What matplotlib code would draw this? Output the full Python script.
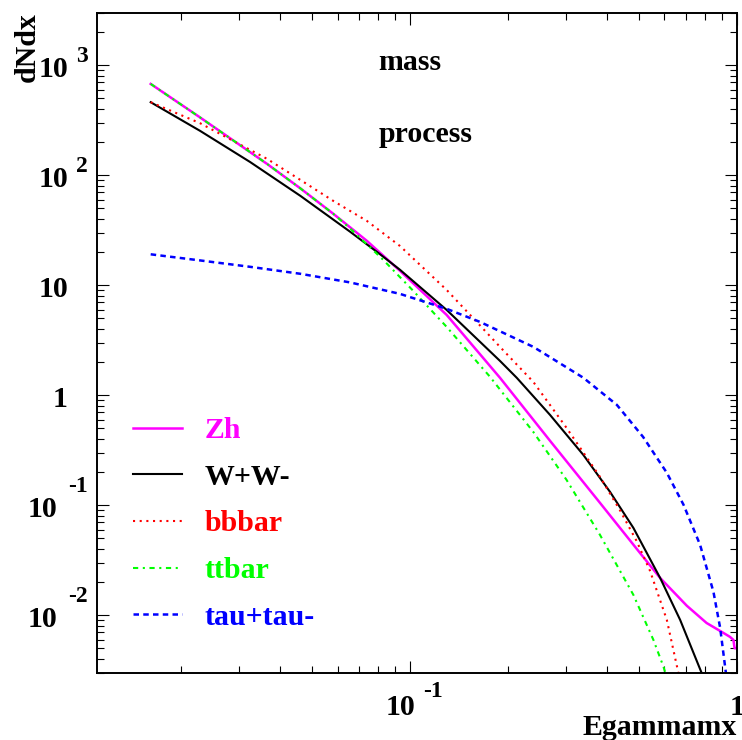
import matplotlib.pyplot as plt
from matplotlib.ticker import LogLocator, NullFormatter

plt.rcParams["font.family"] = ["Liberation Serif", "DejaVu Serif"]
plt.rcParams["font.weight"] = "bold"

# photon spectra dN/dx vs x = E_gamma / m_x
zh_x = [0.0161, 0.0228, 0.0288, 0.0365, 0.0462, 0.0583, 0.0738, 0.0932, 0.1294, 0.1884,
        0.268, 0.381, 0.505, 0.582, 0.702, 0.807, 0.898, 0.952, 0.975, 0.983, 1.0]
zh_y = [676, 335, 207, 127, 75.9, 44.5, 25.3, 13.5, 5.37, 1.44,
        0.385, 0.105, 0.0368, 0.0218, 0.0122, 0.0085, 0.00705, 0.00635, 0.00596, 0.00501, 0.00501]

ww_x = [0.0161, 0.0228, 0.0324, 0.0462, 0.0656, 0.081, 0.0932, 0.1294, 0.1884, 0.212,
        0.268, 0.339, 0.409, 0.482, 0.582, 0.670, 0.780, 0.804]
ww_y = [461, 253, 132, 64.9, 30.6, 19.1, 13.8, 5.96, 2.05, 1.44,
        0.662, 0.286, 0.132, 0.0622, 0.0218, 0.00906, 0.00297, 0.0021]

bb_x = [0.0161, 0.0228, 0.0288, 0.0365, 0.0462, 0.0583, 0.0738, 0.0932, 0.1294, 0.1636,
        0.1884, 0.2383, 0.301, 0.381, 0.438, 0.493, 0.542, 0.610, 0.662, 0.684]
bb_y = [461, 297, 205, 141, 90.6, 58.3, 38.4, 22.7, 9.06, 4.31,
        2.75, 1.32, 0.505, 0.181, 0.0906, 0.0473, 0.0253, 0.00906, 0.00297, 0.0021]

tt_x = [0.0161, 0.0228, 0.0288, 0.0365, 0.0462, 0.0583, 0.0656, 0.0828, 0.1023, 0.1294,
        0.1756, 0.2383, 0.301, 0.381, 0.482, 0.555, 0.596, 0.615]
tt_y = [676, 335, 207, 127, 75.9, 44.5, 32.8, 17.0, 8.88, 4.18,
        1.47, 0.463, 0.170, 0.0537, 0.0153, 0.00596, 0.00339, 0.00247]

tau_x = [0.0161, 0.0228, 0.0324, 0.0462, 0.0656, 0.0932, 0.1294, 0.1636, 0.2383, 0.339,
         0.429, 0.516, 0.610, 0.686, 0.771, 0.847, 0.888, 0.918, 0.939]
tau_y = [19.1, 16.8, 14.7, 12.7, 10.6, 8.34, 6.1, 4.64, 2.75, 1.44,
         0.817, 0.418, 0.197, 0.101, 0.0436, 0.0163, 0.00767, 0.00353, 0.0021]

series = [
    ("Zh", zh_x, zh_y, "#ff00ff", "-", 1.8),
    ("W+W-", ww_x, ww_y, "black", "-", 1.5),
    ("bbbar", bb_x, bb_y, "#ff0000", (0, (1, 2.2)), 1.5),
    ("ttbar", tt_x, tt_y, "#00ff00", (0, (2.5, 2.2, 1, 2.2)), 1.5),
    ("tau+tau-", tau_x, tau_y, "#0000ff", (0, (2.2, 1.7)), 1.8),
]

# log tick labels drawn ROOT style: "10" plus a raised exponent
ytick_vals = [1e-2, 1e-1, 1, 10, 1e2, 1e3]
ytick_base = ["10", "10", "1", "10", "10", "10"]
ytick_exp = ["-2", "-1", "", "", "2", "3"]
xtick_vals = [0.1, 1.0]
xtick_base = ["10", "1"]
xtick_exp = ["-1", ""]

fig = plt.figure(figsize=(7.42, 7.40), dpi=100)
ax = fig.add_axes([0.1314, 0.0909, 0.8619, 0.8919])

for name, xs, ys, color, ls, lw in series:
    ax.plot(xs, ys, color=color, linestyle=ls, linewidth=lw, label=name)

ax.set_xscale("log")
ax.set_yscale("log")
ax.set_xlim(0.01107, 1.0)
ax.set_ylim(0.003, 3000)

for axis in (ax.xaxis, ax.yaxis):
    axis.set_major_locator(LogLocator(base=10, numticks=20))
    axis.set_minor_locator(LogLocator(base=10, subs=range(2, 10), numticks=20))
    axis.set_major_formatter(NullFormatter())
    axis.set_minor_formatter(NullFormatter())
ax.tick_params(which="both", direction="in", top=True, right=True, width=0.8)
ax.tick_params(which="major", length=8.6)
ax.tick_params(which="minor", length=4.7)
for spine in ax.spines.values():
    spine.set_linewidth(1.4)

lab_size = 21.5
exp_size = 17
for val, base, exp in zip(ytick_vals, ytick_base, ytick_exp):
    base_dx = -40.5 if exp.startswith("-") else -29.5
    ax.annotate(base, xy=(0, val), xycoords=("axes fraction", "data"),
                xytext=(base_dx, -11.5), textcoords="offset pixels",
                ha="right", va="baseline", fontsize=lab_size, annotation_clip=False)
    if exp:
        exp_dy = 13 if exp.startswith("-") else 3.5
        ax.annotate(exp, xy=(0, val), xycoords=("axes fraction", "data"),
                    xytext=(-9.5, exp_dy), textcoords="offset pixels",
                    ha="right", va="baseline", fontsize=exp_size, annotation_clip=False)

for val, base, exp in zip(xtick_vals, xtick_base, xtick_exp):
    base_dx = -10 if exp else 0
    ax.annotate(base, xy=(val, 0), xycoords=("data", "axes fraction"),
                xytext=(base_dx, -42.3), textcoords="offset pixels",
                ha="center", va="baseline", fontsize=lab_size, annotation_clip=False)
    if exp:
        ax.annotate(exp, xy=(val, 0), xycoords=("data", "axes fraction"),
                    xytext=(13, -24.3), textcoords="offset pixels",
                    ha="left", va="baseline", fontsize=exp_size, annotation_clip=False)

ax.text(-0.110, 1.0, "dNdx", rotation=90, ha="center", va="top",
        fontsize=lab_size, transform=ax.transAxes)
ax.text(1.0, -0.0944, "Egammamx", ha="right", va="baseline",
        fontsize=lab_size, transform=ax.transAxes)

ax.text(0.4386, 0.913, "mass", fontsize=lab_size, va="baseline", transform=ax.transAxes)
ax.text(0.44, 0.8045, "process", fontsize=lab_size, va="baseline", transform=ax.transAxes)

ax.legend(loc="upper left", bbox_to_anchor=(0.055, 0.3875), frameon=False,
          fontsize=lab_size, handlelength=1.64, handletextpad=0.78,
          labelspacing=0.66, borderpad=0, borderaxespad=0, labelcolor="linecolor")

fig.savefig("out.png", dpi=100)
plt.close(fig)
